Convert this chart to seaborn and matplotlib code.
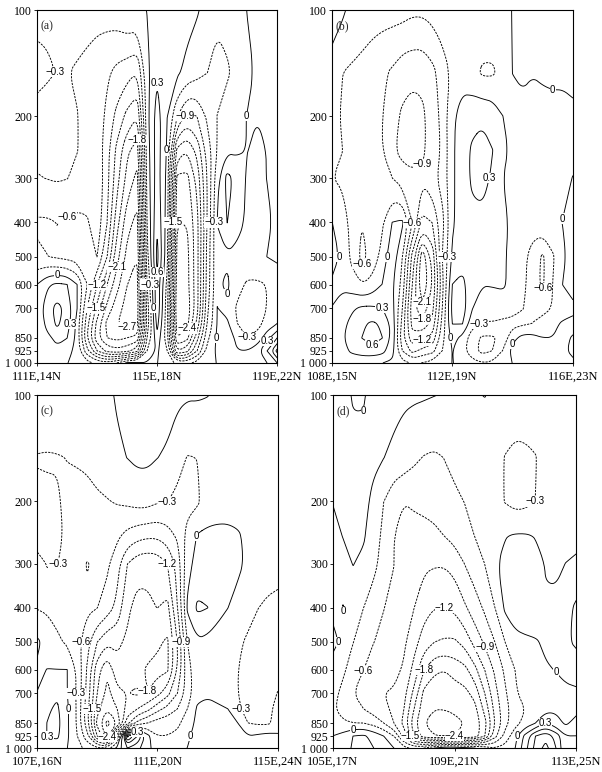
import numpy as np
import matplotlib
matplotlib.use("Agg")
import matplotlib.pyplot as plt
import seaborn as sns

sns.set_theme(style="ticks")
plt.rcParams['font.family'] = ['Liberation Sans', 'DejaVu Sans']

# pressure levels (hPa) of the data rows, grid points along each section (every 1/3 deg)
levels_p = [100, 150, 200, 250, 300, 400, 500, 600, 700, 775, 850, 925, 1000]
dist = np.linspace(0, 8, 25)

p_ticks = [100, 200, 300, 400, 500, 600, 700, 850, 925, 1000]
p_ticklabels = ['100', '200', '300', '400', '500', '600', '700', '850', '925', '1 000']

panel_names = ['(a)', '(b)', '(c)', '(d)']
x_labels = [
    ['111E,14N', '115E,18N', '119E,22N'],
    ['108E,15N', '112E,19N', '116E,23N'],
    ['107E,16N', '111E,20N', '115E,24N'],
    ['105E,17N', '109E,21N', '113E,25N'],
]

# vertical velocity, one row per pressure level
w_a = [
    [-0.27, -0.27, -0.27, -0.27, -0.25, -0.25, -0.25, -0.2, -0.15, -0.05, -0.05, 0.0, 0.1, 0.15, 0.15, 0.1, 0.02, -0.1, -0.25, -0.2, -0.1, 0.0, 0.05, 0.05, 0.05],
    [-0.35, -0.33, -0.3, -0.3, -0.32, -0.35, -0.4, -0.55, -0.7, -0.8, -0.9, -0.1, 0.25, 0.2, 0.05, -0.1, -0.2, -0.3, -0.4, -0.35, -0.2, -0.05, 0.02, 0.05, 0.05],
    [-0.25, -0.22, -0.2, -0.22, -0.3, -0.35, -0.4, -0.7, -1.0, -1.3, -1.5, -0.1, 0.45, 0.0, -0.6, -1.0, -0.9, -0.55, -0.3, -0.15, -0.05, 0.0, 0.0, 0.02, 0.05],
    [-0.25, -0.22, -0.2, -0.22, -0.3, -0.35, -0.4, -0.8, -1.3, -1.75, -1.95, -0.15, 0.45, -0.05, -1.6, -1.8, -1.4, -0.8, -0.3, -0.05, -0.05, 0.0, -0.05, 0.0, 0.1],
    [-0.32, -0.3, -0.28, -0.3, -0.35, -0.4, -0.35, -0.8, -1.4, -1.9, -2.2, -0.2, 0.45, -0.1, -2.2, -2.2, -1.7, -0.9, -0.1, 0.4, 0.2, -0.05, -0.05, 0.0, 0.05],
    [-0.65, -0.65, -0.6, -0.65, -0.7, -0.65, -0.4, -0.9, -1.7, -2.3, -2.5, -0.3, 0.55, -0.15, -2.4, -2.4, -1.9, -0.9, 0.0, 0.3, 0.1, -0.05, -0.1, -0.05, 0.05],
    [-0.55, -0.6, -0.65, -0.7, -0.75, -0.7, -0.6, -1.2, -2.0, -2.5, -2.7, -0.4, 0.7, -0.2, -2.5, -2.5, -1.9, -0.8, -0.05, -0.05, -0.1, -0.1, -0.1, 0.0, 0.05],
    [0.0, 0.25, 0.35, 0.3, 0.0, -0.6, -1.2, -1.8, -2.3, -2.7, -2.8, -0.6, 0.5, -0.4, -2.6, -2.5, -1.9, -0.8, -0.05, 0.05, -0.2, -0.35, -0.35, -0.3, -0.2],
    [0.1, 0.45, 0.7, 0.5, 0.0, -0.9, -1.6, -2.2, -2.6, -2.8, -2.9, -0.8, 0.55, -0.5, -2.7, -2.6, -1.9, -0.7, 0.0, -0.1, -0.35, -0.45, -0.4, -0.3, -0.15],
    [0.0, 0.4, 0.65, 0.45, -0.1, -1.1, -1.9, -2.5, -2.7, -2.8, -2.8, -0.8, 0.4, -0.5, -2.6, -2.5, -1.7, -0.6, 0.0, 0.05, -0.3, -0.45, -0.4, -0.2, 0.0],
    [0.0, 0.2, 0.4, 0.3, -0.1, -1.2, -2.0, -2.4, -2.5, -2.4, -2.3, -0.6, 0.2, -0.5, -2.4, -2.2, -1.3, -0.4, 0.05, 0.1, -0.05, -0.3, -0.2, 0.2, 0.6],
    [0.1, 0.15, 0.2, 0.1, -0.1, -0.8, -1.5, -1.9, -2.0, -1.9, -1.6, -0.3, 0.05, -0.3, -1.8, -1.6, -0.9, -0.2, 0.05, 0.1, 0.0, 0.0, 0.2, 0.6, 1.3],
    [0.0, 0.05, 0.05, 0.0, -0.05, -0.2, -0.4, -0.5, -0.3, 0.05, 0.05, 0.0, 0.0, -0.1, -0.4, -0.4, -0.2, -0.05, 0.0, 0.05, 0.0, 0.0, 0.1, 0.3, 0.6],
]

w_b = [
    [0.2, 0.05, -0.1, -0.15, -0.2, -0.2, -0.2, -0.2, -0.25, -0.25, -0.2, -0.15, -0.1, -0.1, -0.1, -0.1, -0.1, -0.05, 0.0, 0.05, 0.1, 0.1, 0.1, 0.1, 0.1],
    [-0.2, -0.3, -0.35, -0.4, -0.45, -0.55, -0.65, -0.8, -0.85, -0.85, -0.7, -0.45, -0.25, -0.1, -0.2, -0.35, -0.35, -0.2, 0.0, 0.02, 0.0, 0.03, 0.05, 0.05, 0.05],
    [-0.25, -0.32, -0.4, -0.45, -0.5, -0.6, -0.8, -0.95, -1.0, -0.95, -0.8, -0.5, -0.05, 0.1, 0.2, 0.25, 0.2, 0.0, -0.1, -0.05, -0.05, -0.1, -0.1, -0.1, -0.05],
    [-0.2, -0.3, -0.4, -0.45, -0.5, -0.6, -0.85, -1.0, -1.0, -0.95, -0.8, -0.55, -0.05, 0.15, 0.35, 0.4, 0.3, 0.05, -0.05, -0.1, -0.1, -0.1, -0.1, -0.1, -0.05],
    [-0.3, -0.35, -0.35, -0.35, -0.45, -0.5, -0.6, -0.75, -0.85, -0.85, -0.7, -0.5, -0.05, 0.15, 0.35, 0.4, 0.25, 0.0, -0.1, -0.15, -0.2, -0.15, -0.1, -0.05, 0.0],
    [0.0, -0.15, -0.4, -0.6, -0.6, -0.35, 0.0, 0.05, -0.6, -1.3, -1.2, -0.7, -0.05, 0.15, 0.2, 0.2, 0.15, 0.05, -0.05, -0.1, -0.15, -0.1, -0.05, 0.0, 0.1],
    [0.1, -0.05, -0.4, -0.7, -0.5, -0.2, 0.2, -0.3, -1.3, -2.3, -1.7, -0.6, 0.05, 0.15, 0.15, 0.1, 0.05, 0.02, -0.05, -0.2, -0.45, -0.65, -0.35, -0.05, 0.1],
    [-0.05, -0.05, -0.15, -0.3, -0.2, 0.0, 0.05, -0.4, -1.5, -2.4, -1.8, -0.7, 0.3, 0.4, 0.05, 0.0, 0.0, 0.02, -0.05, -0.2, -0.5, -0.65, -0.3, 0.0, 0.15],
    [0.0, 0.1, 0.25, 0.35, 0.35, 0.3, 0.1, -0.6, -1.7, -2.0, -1.6, -0.6, 0.4, 0.45, 0.0, -0.1, -0.05, -0.1, -0.2, -0.3, -0.35, -0.35, -0.3, -0.2, -0.1],
    [0.05, 0.2, 0.4, 0.55, 0.65, 0.55, 0.2, -0.7, -1.6, -1.7, -1.4, -0.5, 0.3, 0.3, -0.2, -0.35, -0.35, -0.4, -0.4, -0.35, -0.3, -0.25, -0.1, 0.05, 0.1],
    [0.05, 0.25, 0.45, 0.6, 0.7, 0.6, 0.2, -0.8, -1.4, -1.3, -1.1, -0.4, 0.1, -0.1, -0.5, -0.65, -0.65, -0.5, -0.1, 0.1, 0.1, 0.0, 0.0, 0.15, 0.35],
    [0.05, 0.2, 0.35, 0.45, 0.5, 0.4, 0.1, -0.6, -1.0, -0.8, -0.7, -0.3, 0.0, -0.2, -0.5, -0.7, -0.6, -0.3, 0.1, 0.25, 0.2, 0.0, 0.0, 0.2, 0.4],
    [0.0, 0.05, 0.1, 0.05, 0.0, 0.0, -0.05, -0.2, -0.35, -0.3, -0.2, -0.1, 0.0, -0.05, -0.2, -0.3, -0.25, -0.1, 0.0, 0.05, 0.05, 0.0, 0.0, 0.1, 0.2],
]

w_c = [
    [-0.1, -0.1, -0.1, -0.1, -0.1, -0.1, -0.1, -0.05, 0.02, 0.1, 0.15, 0.15, 0.15, 0.1, 0.05, 0.02, 0.02, 0.0, -0.05, -0.1, -0.05, -0.1, -0.15, -0.15, -0.15],
    [-0.32, -0.33, -0.32, -0.3, -0.28, -0.25, -0.2, -0.15, -0.05, 0.0, 0.05, 0.05, 0.0, -0.05, -0.2, -0.32, -0.3, -0.2, -0.2, -0.2, -0.2, -0.2, -0.2, -0.2, -0.2],
    [-0.25, -0.25, -0.28, -0.35, -0.4, -0.4, -0.35, -0.32, -0.28, -0.25, -0.2, -0.2, -0.28, -0.3, -0.38, -0.4, -0.35, -0.15, -0.1, -0.1, -0.1, -0.12, -0.15, -0.15, -0.15],
    [-0.25, -0.2, -0.25, -0.35, -0.4, -0.45, -0.45, -0.5, -0.55, -0.7, -0.8, -0.85, -0.85, -0.75, -0.55, -0.2, 0.02, 0.05, 0.05, 0.05, 0.02, -0.05, -0.1, -0.15, -0.2],
    [-0.35, -0.3, -0.3, -0.35, -0.5, -0.62, -0.55, -0.55, -0.8, -1.2, -1.4, -1.45, -1.4, -1.2, -0.8, -0.1, 0.1, 0.15, 0.15, 0.1, 0.05, -0.05, -0.15, -0.2, -0.25],
    [-0.32, -0.35, -0.4, -0.45, -0.5, -0.55, -0.6, -0.75, -1.0, -1.45, -1.6, -1.55, -1.5, -1.6, -0.9, 0.05, 0.35, 0.3, 0.1, 0.0, -0.1, -0.2, -0.3, -0.35, -0.35],
    [0.05, -0.1, -0.25, -0.35, -0.5, -0.8, -1.2, -1.45, -1.45, -1.55, -1.65, -1.65, -1.75, -1.85, -1.2, -0.3, -0.05, -0.1, -0.15, -0.2, -0.25, -0.35, -0.4, -0.4, -0.35],
    [-0.05, 0.0, 0.0, 0.0, -0.35, -0.95, -1.7, -2.05, -1.6, -1.55, -1.7, -1.85, -1.9, -1.85, -1.2, -0.4, -0.15, -0.05, -0.1, -0.15, -0.3, -0.4, -0.4, -0.4, -0.35],
    [0.0, 0.15, 0.25, 0.0, -0.35, -1.0, -1.8, -2.2, -1.9, -1.8, -1.85, -1.8, -1.6, -1.3, -0.9, -0.45, -0.1, -0.05, -0.1, -0.15, -0.3, -0.4, -0.4, -0.35, -0.3],
    [0.05, 0.25, 0.35, 0.05, -0.35, -1.1, -2.0, -2.4, -2.1, -1.7, -1.5, -1.3, -1.0, -0.8, -0.6, -0.3, 0.05, 0.1, 0.05, 0.0, -0.25, -0.4, -0.4, -0.35, -0.25],
    [0.1, 0.3, 0.4, 0.05, -0.35, -1.1, -2.2, -2.8, -2.4, -1.3, -0.8, -0.6, -0.45, -0.4, -0.35, -0.2, 0.1, 0.15, 0.15, 0.1, 0.0, -0.3, -0.35, -0.35, -0.2],
    [0.1, 0.3, 0.35, 0.05, -0.3, -0.8, -1.8, -2.5, -0.8, 1.6, 0.9, 0.1, -0.3, -0.3, -0.25, -0.05, 0.1, 0.15, 0.15, 0.1, 0.05, 0.0, 0.05, 0.1, 0.05],
    [0.05, 0.15, 0.15, 0.0, -0.2, -0.4, -0.6, -0.5, 0.1, 0.6, 0.4, 0.05, -0.1, -0.1, -0.1, 0.0, 0.05, 0.05, 0.05, 0.0, 0.0, 0.02, 0.05, 0.05, 0.0],
]

w_d = [
    [0.05, 0.05, -0.02, -0.02, 0.05, 0.05, 0.05, 0.04, 0.03, 0.02, 0.0, -0.02, -0.02, -0.02, -0.02, 0.0, -0.05, -0.08, -0.1, -0.1, -0.1, -0.1, -0.1, -0.1, -0.1],
    [0.05, 0.05, 0.05, 0.05, 0.03, 0.0, -0.05, -0.15, -0.25, -0.32, -0.35, -0.3, -0.25, -0.2, -0.15, -0.15, -0.2, -0.32, -0.4, -0.38, -0.32, -0.15, -0.1, -0.1, -0.1],
    [0.0, 0.05, 0.05, 0.05, -0.05, -0.3, -0.55, -0.6, -0.55, -0.5, -0.45, -0.4, -0.35, -0.3, -0.25, -0.2, -0.2, -0.32, -0.4, -0.38, -0.3, -0.1, -0.05, -0.05, -0.05],
    [-0.05, 0.0, 0.03, 0.02, -0.1, -0.4, -0.6, -0.7, -0.75, -0.75, -0.7, -0.6, -0.5, -0.4, -0.3, -0.2, -0.1, -0.02, 0.02, 0.02, -0.02, -0.05, -0.1, -0.1, -0.1],
    [-0.1, -0.05, 0.0, -0.05, -0.2, -0.45, -0.6, -0.75, -0.85, -0.85, -0.88, -0.88, -0.8, -0.6, -0.45, -0.3, -0.05, 0.1, 0.15, 0.15, 0.1, -0.02, -0.05, 0.0, 0.05],
    [-0.05, 0.0, -0.1, -0.3, -0.5, -0.6, -0.65, -0.75, -0.9, -1.1, -1.2, -1.2, -1.15, -0.95, -0.75, -0.55, -0.3, 0.05, 0.15, 0.15, 0.1, 0.02, 0.05, 0.2, 0.35],
    [0.05, -0.05, -0.3, -0.5, -0.6, -0.65, -0.7, -0.85, -1.1, -1.35, -1.5, -1.55, -1.55, -1.4, -1.1, -0.85, -0.6, -0.3, -0.1, -0.05, -0.02, 0.02, 0.1, 0.25, 0.35],
    [-0.1, -0.25, -0.45, -0.6, -0.7, -0.75, -0.8, -0.95, -1.3, -1.8, -2.05, -2.1, -2.0, -1.9, -1.6, -1.2, -0.85, -0.55, -0.3, -0.1, -0.05, -0.02, 0.0, 0.05, 0.1],
    [-0.2, -0.4, -0.6, -0.75, -0.85, -0.9, -0.95, -1.1, -1.6, -2.2, -2.3, -2.3, -2.25, -2.2, -2.0, -1.5, -1.0, -0.65, -0.35, -0.15, -0.05, -0.05, -0.05, -0.05, -0.05],
    [-0.25, -0.45, -0.55, -0.6, -0.75, -0.85, -0.95, -1.2, -1.8, -2.3, -2.4, -2.4, -2.35, -2.3, -2.2, -1.7, -1.1, -0.7, -0.45, -0.3, -0.2, -0.1, -0.05, -0.05, -0.1],
    [-0.2, -0.25, -0.3, -0.3, -0.4, -0.6, -0.9, -1.3, -2.0, -2.4, -2.5, -2.5, -2.5, -2.4, -2.3, -1.9, -1.2, -0.7, -0.4, -0.2, 0.0, 0.3, 0.1, -0.05, 0.1],
    [0.0, 0.1, 0.3, 0.35, 0.2, 0.0, -0.3, -1.0, -1.8, -2.3, -2.4, -2.4, -2.4, -2.4, -2.3, -1.8, -1.0, -0.5, -0.1, 0.4, 0.9, 1.1, 0.8, 0.3, 0.3],
    [0.0, 0.1, 0.35, 0.45, 0.3, 0.1, 0.0, -0.2, -0.4, -0.3, 0.0, 0.2, 0.2, 0.1, 0.0, -0.1, -0.3, -0.2, 0.0, 0.5, 1.0, 1.3, 0.9, 0.3, 0.3],
]

fields = [w_a, w_b, w_c, w_d]
# axes boxes in figure fraction
boxes = [
    [0.0615, 0.530, 0.399, 0.457],
    [0.5515, 0.530, 0.400, 0.457],
    [0.0615, 0.031, 0.400, 0.457],
    [0.553, 0.031, 0.404, 0.457],
]

# contour every 0.3; drawn a hair below each value so grid values that sit
# exactly on a level do not give degenerate lines
contour_values = np.round(np.arange(-10, 11) * 0.3, 1)
contour_levels = contour_values - 0.005
dash = (0, (2.4, 1.3))


def fmt(v):
    v = round(v, 1)
    if abs(v) < 0.05:
        return '0'
    return f'{v:.1f}'.replace('-', '\u2212')


def chaikin(pts, closed, n=3):
    # corner cutting of the polylines matplotlib's contour gives back
    for _ in range(n):
        if closed:
            p = pts[:-1]
            nxt = np.roll(p, -1, axis=0)
            new = np.empty((2 * len(p), 2))
            new[0::2] = 0.75 * p + 0.25 * nxt
            new[1::2] = 0.25 * p + 0.75 * nxt
            pts = np.vstack([new, new[:1]])
        else:
            new = np.empty((2 * (len(pts) - 1), 2))
            new[0::2] = 0.75 * pts[:-1] + 0.25 * pts[1:]
            new[1::2] = 0.25 * pts[:-1] + 0.75 * pts[1:]
            pts = np.vstack([pts[:1], new, pts[-1:]])
    return pts


fig = plt.figure(figsize=(6.02, 7.72), dpi=100)
renderer = fig.canvas.get_renderer()

for name, field, box, xl in zip(panel_names, fields, boxes, x_labels):
    ax = fig.add_axes(box)
    cs = ax.contour(dist, levels_p, np.array(field), levels=contour_levels,
                    colors='black', linewidths=0.0)
    # redraw each contour smoothed in (distance, log p) space
    for val, path in zip(contour_values, cs.get_paths()):
        if len(path.vertices) == 0:
            continue
        for poly in path.to_polygons(closed_only=False):
            if len(poly) < 2:
                continue
            q = np.column_stack([poly[:, 0], np.log10(poly[:, 1])])
            closed = len(q) > 3 and np.allclose(q[0], q[-1])
            q = chaikin(q, closed)
            ax.plot(q[:, 0], 10 ** q[:, 1], color='black', lw=0.65,
                    linestyle=dash if val < 0 else '-')

    ax.set_yscale('log')
    ax.set_ylim(1000, 100)
    ax.set_xlim(0, 8)
    ax.set_yticks(p_ticks)
    ax.set_yticklabels(p_ticklabels)
    ax.yaxis.set_minor_locator(matplotlib.ticker.NullLocator())
    ax.set_xticks([0, 4, 8])
    ax.set_xticklabels(xl)
    for t in ax.get_yticklabels():
        t.set_fontfamily('Liberation Serif')
        t.set_fontsize(8.5)
    for t in ax.get_xticklabels():
        t.set_fontfamily('Liberation Serif')
        t.set_fontsize(9)
    ax.tick_params(direction='out', length=2.5, width=0.6, pad=1, colors='black')
    ax.tick_params(axis='x', pad=3)
    for sp in ax.spines.values():
        sp.set_linewidth(0.8)
        sp.set_color('black')
    tag = ax.text(0.015, 0.955, name, transform=ax.transAxes, fontsize=8.5,
                  fontfamily='Liberation Serif', ha='left', va='center')

    labels = ax.clabel(cs, fmt=fmt, fontsize=7, inline=False, colors='black')
    # horizontal labels on a white patch; drop the ones that would collide
    ax_box = ax.get_window_extent(renderer)
    kept = [tag.get_window_extent(renderer).expanded(1.2, 1.2)]
    for t in list(labels):
        t.set_rotation(0)
        t.set_fontfamily(['Liberation Sans', 'DejaVu Sans'])
        bb = t.get_window_extent(renderer).expanded(1.15, 1.25)
        inside = (bb.x0 > ax_box.x0 + 1 and bb.x1 < ax_box.x1 - 1 and
                  bb.y0 > ax_box.y0 + 1 and bb.y1 < ax_box.y1 - 1)
        if not inside or any(bb.overlaps(k) for k in kept):
            t.remove()
            continue
        kept.append(bb)
        t.set_bbox(dict(facecolor='white', edgecolor='none', pad=0.1))
        t.set_zorder(5)

fig.savefig('out.png', dpi=100)
